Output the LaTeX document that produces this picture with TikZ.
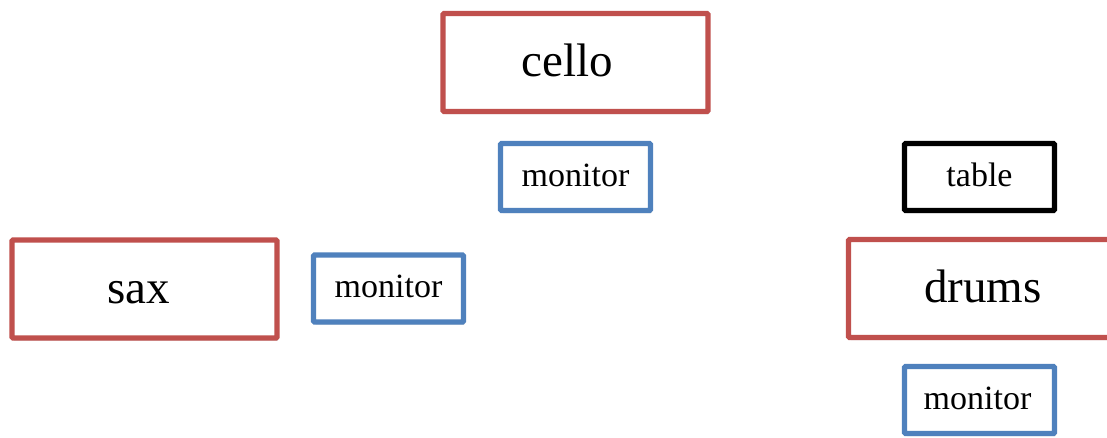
\documentclass[tikz,border=0pt]{standalone}
\usepackage{fontspec}
\setmainfont{Liberation Serif}
\usetikzlibrary{shadows}
\definecolor{boxred}{HTML}{C0504D}
\definecolor{boxblue}{HTML}{4F81BD}
\tikzset{
  base/.style={draw, line width=5.2pt, fill=white, inner sep=0pt, rounded corners=1pt,
    drop shadow={shadow xshift=1.5pt, shadow yshift=-2.5pt, opacity=0.18, fill=black}},
  bigbox/.style={base, draw=boxred, minimum width=265pt, minimum height=98pt,
    text height=28pt, text depth=0pt,
    font=\fontsize{47}{50}\selectfont},
  smallbox/.style={base, minimum width=150pt, minimum height=67pt,
    text height=18pt, text depth=0pt,
    font=\fontsize{34}{36}\selectfont},
  monbox/.style={smallbox, draw=boxblue},
  tablebox/.style={smallbox, draw=black}
}
\begin{document}
\begin{tikzpicture}[x=1pt, y=-1pt]
\useasboundingbox (0,0) rectangle (1107,437);
\node[bigbox] (cello) at (575.5,62.5) {\hspace*{-16pt}cello};
\node[monbox] (mon1) at (575.5,177) {monitor};
\node[tablebox] (table) at (979.5,177) {table};
\node[bigbox] (sax) at (144.5,289) {\hspace*{-11pt}sax};
\node[monbox] (mon2) at (388.5,288.5) {monitor};
\node[bigbox] (drums) at (981,288.5) {\hspace*{4pt}drums};
\node[monbox] (mon3) at (979.5,400) {\hspace*{-4pt}monitor};
\end{tikzpicture}
\end{document}
